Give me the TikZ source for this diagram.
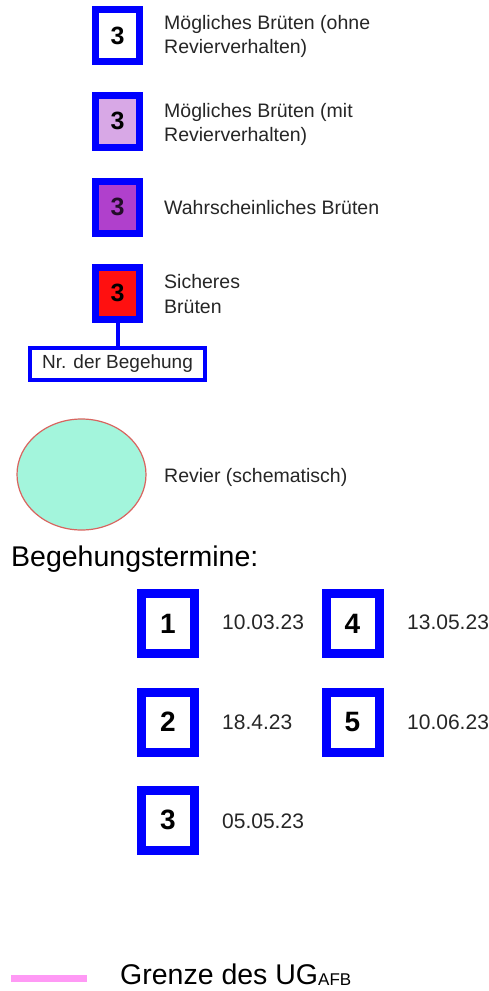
\documentclass[tikz,border=0pt]{standalone}
\usepackage{fontspec}
\setmainfont{Liberation Sans}
\usetikzlibrary{shapes.geometric}
\definecolor{lav}{HTML}{D8A8E6}
\definecolor{purp}{HTML}{B040CC}
\definecolor{boxred}{HTML}{FF1010}
\definecolor{aqua}{HTML}{A3F5DC}
\definecolor{revline}{HTML}{D9645F}
\definecolor{ugpink}{HTML}{FF99F5}
\begin{document}
\begin{tikzpicture}[x=1pt,y=-1pt,
 lbox/.style={draw=blue, line width=7pt, minimum width=44pt, minimum height=52pt, inner sep=0pt, font=\fontsize{25}{25}\selectfont\bfseries},
 dbox/.style={draw=blue, line width=9pt, fill=white, minimum width=53pt, minimum height=60pt, inner sep=0pt, font=\fontsize{28}{28}\selectfont\bfseries},
 lbl/.style={anchor=base west, inner sep=0pt, font=\fontsize{19.5}{19.5}\selectfont, text=black!85},
 dlbl/.style={anchor=west, inner sep=0pt, font=\fontsize{21}{21}\selectfont, text=black!85},
 big/.style={anchor=base west, inner sep=0pt, font=\fontsize{28.5}{28.5}\selectfont},
]
\useasboundingbox (0,0) rectangle (488,991);
\fill[white] (0,0) rectangle (488,991);

% legend boxes
\node[lbox, fill=white] (b1) at (117.5,35.5) {3};
\node[lbox, fill=lav] (b2) at (117.5,121) {3};
\node[lbox, fill=purp, text=black!80!purp] (b3) at (117.5,207) {3};
\node[lbox, fill=boxred] (b4) at (117.5,293) {3};

\node[lbl] (t1a) at (164,29) {Mögliches Brüten (ohne};
\node[lbl] (t1b) at (164,53) {Revierverhalten)};
\node[lbl] (t2a) at (164,117) {Mögliches Brüten (mit};
\node[lbl] (t2b) at (164,141) {Revierverhalten)};
\node[lbl] (t3) at (164,214) {Wahrscheinliches Brüten};
\node[lbl] (t4a) at (164,288) {Sicheres};
\node[lbl] (t4b) at (164,313) {Brüten};

% Nr. der Begehung
\node[draw=blue, line width=4pt, minimum width=175pt, minimum height=32pt, inner sep=0pt,
      font=\fontsize{19}{19}\selectfont, text=black!85] (nr) at (117.5,364) {Nr. der Begehung};
\draw[blue, line width=4pt] (b4.south) -- (nr.north);

% Revier
\node[ellipse, draw=revline, fill=aqua, line width=1.2pt, minimum width=129pt, minimum height=111pt, inner sep=0pt] (rev) at (81.5,474.5) {};
\node[lbl, anchor=west] (revt) at (164,477) {Revier (schematisch)};

% Begehungstermine
\node[big] (bt) at (11,566) {Begehungstermine:};

\node[dbox] (d1) at (168,623.5) {1};
\node[dbox] (d2) at (168,722) {2};
\node[dbox] (d3) at (168,820) {3};
\node[dbox] (d4) at (352.5,623.5) {4};
\node[dbox] (d5) at (352.5,722) {5};

\node[dlbl] (l1) at (222,622) {10.03.23};
\node[dlbl] (l2) at (222,722) {18.4.23};
\node[dlbl] (l3) at (222,821) {05.05.23};
\node[dlbl] (l4) at (407,622) {13.05.23};
\node[dlbl] (l5) at (407,722) {10.06.23};

% Grenze
\coordinate (ga) at (11,978.5);
\coordinate (gb) at (87,978.5);
\draw[ugpink, line width=7pt] (ga) -- (gb);
\node[big] (gt) at (120,984) {Grenze des UG{\fontsize{17}{17}\selectfont\raisebox{-1pt}{AFB}}};
\end{tikzpicture}
\end{document}
